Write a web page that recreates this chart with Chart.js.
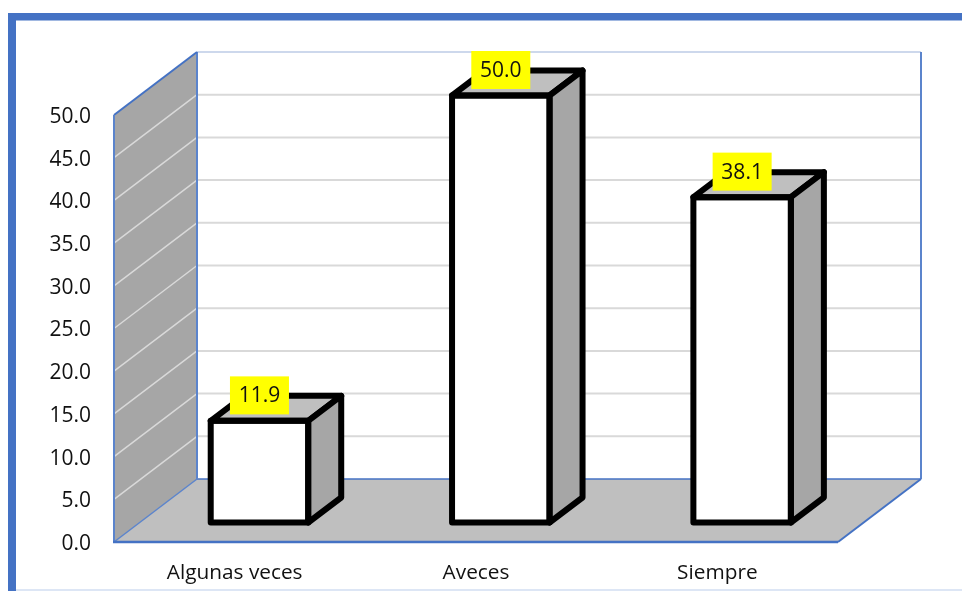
<!DOCTYPE html>
<html>
<head>
<meta charset="utf-8">
<style>
html,body{margin:0;padding:0;background:#fff;overflow:hidden}
canvas{display:block}
</style>
<script src="https://cdn.jsdelivr.net/npm/chart.js@4"></script>
</head>
<body>
<canvas id="c" width="962" height="591"></canvas>
<script>
const categories = ["Algunas veces", "Aveces", "Siempre"];
const seriesValues = [11.9, 50.0, 38.1];
const axisMin = 0, axisMax = 50, axisStep = 5;

const FONT = '"Open Sans", sans-serif';
const BLUE = '#4472c4', GRID = '#d9d9d9', WALL = '#a6a6a6', FLOOR = '#bfbfbf';
const WALL_DX = 83, WALL_DY = -63;      // depth of the plot box
const BAR_DX = 24.8, BAR_DY = -19.5;    // bars stand inside the box
const BAR_DEPTH_X = 33, BAR_DEPTH_Y = -25;

function poly(ctx, pts) {
  ctx.beginPath();
  pts.forEach((p, i) => i ? ctx.lineTo(p[0], p[1]) : ctx.moveTo(p[0], p[1]));
  ctx.closePath();
}
function line(ctx, a, b, color, w) {
  ctx.strokeStyle = color; ctx.lineWidth = w;
  ctx.beginPath(); ctx.moveTo(a[0], a[1]); ctx.lineTo(b[0], b[1]); ctx.stroke();
}

const frame = {
  id: 'frame',
  beforeDraw(chart) {
    const ctx = chart.ctx;
    ctx.save();
    ctx.fillStyle = '#fff'; ctx.fillRect(0, 0, chart.width, chart.height);
    ctx.fillStyle = '#dde6f5'; ctx.fillRect(16, 589, chart.width - 16, 2);
    ctx.fillStyle = BLUE;
    ctx.fillRect(8, 13, chart.width - 8, 7.5);
    ctx.fillRect(8, 13, 8, chart.height - 13);
    ctx.restore();
  }
};

const box3d = {
  id: 'box3d',
  beforeDatasetsDraw(chart) {
    const ctx = chart.ctx, a = chart.chartArea, y = chart.scales.y;
    const L = a.left, R = a.right, T = a.top, B = a.bottom;
    const dx = WALL_DX, dy = WALL_DY;
    ctx.save();
    // floor
    ctx.fillStyle = FLOOR;
    poly(ctx, [[L, B], [R, B], [R + dx, B + dy], [L + dx, B + dy]]); ctx.fill();
    // left wall
    ctx.fillStyle = WALL;
    poly(ctx, [[L, B], [L, T], [L + dx, T + dy], [L + dx, B + dy]]); ctx.fill();
    // grid lines
    y.ticks.forEach(t => {
      const py = y.getPixelForValue(t.value);
      if (t.value === axisMin) return;
      if (t.value === axisMax) {
        line(ctx, [L + dx, py + dy], [R + dx, py + dy], '#bccbe6', 1.5);
        return;
      }
      line(ctx, [L, py], [L + dx, py + dy], GRID, 1.5);
      line(ctx, [L + dx, py + dy], [R + dx, py + dy], GRID, 2);
    });
    // box edges
    line(ctx, [L + dx, B + dy], [R + dx, B + dy], BLUE, 1.5);
    line(ctx, [L + dx, T + dy], [L + dx, B + dy], '#5b84cc', 2);
    line(ctx, [R + dx, T + dy], [R + dx, B + dy], '#5b84cc', 2);
    line(ctx, [L, T], [L + dx, T + dy], BLUE, 2);
    line(ctx, [L, T], [L, B], '#5b84cc', 2);
    line(ctx, [L, B], [L + dx, B + dy], '#5b84cc', 1.5);
    line(ctx, [R, B], [R + dx, B + dy], BLUE, 2);
    line(ctx, [L - 1, B], [R, B], BLUE, 2.5);
    ctx.restore();
    // bars are drawn by the library, moved into the box
    ctx.save();
    ctx.translate(BAR_DX, BAR_DY);
  },
  afterDatasetsDraw(chart) {
    const ctx = chart.ctx;
    const meta = chart.getDatasetMeta(0);
    meta.data.forEach((bar, i) => {
      const p = bar.getProps(['x', 'y', 'base', 'width'], true);
      const l = p.x - p.width / 2, r = p.x + p.width / 2, t = p.y, b = p.base;
      const ddx = BAR_DEPTH_X, ddy = BAR_DEPTH_Y;
      ctx.lineJoin = 'round';
      ctx.lineWidth = 6;
      ctx.strokeStyle = '#000';
      ctx.fillStyle = FLOOR;
      poly(ctx, [[l, t], [r, t], [r + ddx, t + ddy], [l + ddx, t + ddy]]);
      ctx.fill(); ctx.stroke();
      ctx.fillStyle = WALL;
      poly(ctx, [[r, t], [r + ddx, t + ddy], [r + ddx, b + ddy], [r, b]]);
      ctx.fill(); ctx.stroke();
      ctx.strokeRect(l, t, p.width, b - t);
    });
    // value labels
    meta.data.forEach((bar, i) => {
      const p = bar.getProps(['x', 'y'], true);
      const w = 59, h = 38, cy = p.y - 25.5;
      ctx.fillStyle = '#ffff00';
      ctx.fillRect(p.x - w / 2, cy - h / 2, w, h);
      ctx.fillStyle = '#111';
      ctx.font = '21px ' + FONT;
      ctx.textAlign = 'center';
      ctx.textBaseline = 'middle';
      ctx.fillText(seriesValues[i].toFixed(1), p.x, cy + 1);
    });
    ctx.restore();
  }
};

new Chart(document.getElementById('c'), {
  type: 'bar',
  data: {
    labels: categories,
    datasets: [{
      data: seriesValues,
      backgroundColor: '#ffffff',
      borderWidth: 0,
      barPercentage: 0.404,
      categoryPercentage: 1
    }]
  },
  options: {
    responsive: false,
    animation: false,
    devicePixelRatio: 1,
    layout: { padding: { left: 0, top: 115, right: 124, bottom: 0 } },
    plugins: { legend: { display: false }, tooltip: { enabled: false } },
    scales: {
      x: {
        grid: { display: false, drawTicks: false },
        border: { display: false },
        afterFit(s) { s.height = 49; },
        ticks: { color: '#111', font: { family: FONT, size: 20.8 }, padding: 19, maxRotation: 0 }
      },
      y: {
        min: axisMin, max: axisMax,
        grid: { display: false, drawTicks: false },
        border: { display: false },
        afterFit(s) { s.width = 114; },
        ticks: {
          stepSize: axisStep,
          color: '#111',
          font: { family: FONT, size: 21 },
          padding: 23,
          labelOffset: 2,
          callback: v => Number(v).toFixed(1)
        }
      }
    }
  },
  plugins: [frame, box3d]
});
</script>
</body>
</html>
